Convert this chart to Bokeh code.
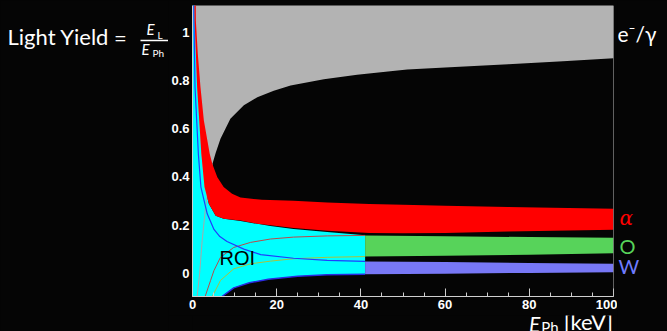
from bokeh.plotting import figure
from bokeh.layouts import row, column
from bokeh.models import Range1d, FixedTicker, Label, Span, CustomJSTickFormatter
from bokeh.embed import file_html
from bokeh.resources import INLINE

# ---------------------------------------------------------------------------
# Light yield bands versus phonon energy E_Ph [keV]
# ---------------------------------------------------------------------------

# e-/gamma band, lower edge
eg_low_x = [1.1, 1.7, 2.3, 3.1, 4.0, 4.7, 5.5, 6.65, 9.0, 12.2, 15.4, 19.3,
            23.3, 31.2, 39.1, 47.0, 51.0, 60.0, 75.0, 88.0, 100.0]
eg_low_y = [-0.097, 0.0, 0.136, 0.274, 0.38, 0.452, 0.50, 0.559, 0.642, 0.698,
            0.732, 0.759, 0.780, 0.806, 0.825, 0.840, 0.847, 0.855, 0.869,
            0.881, 0.894]

# alpha band, upper and lower edges
alpha_hi_x = [0.75, 0.8, 1.26, 1.9, 2.7, 4.1, 4.7, 5.9, 7.4, 9.4, 11.4, 16.5,
              24.0, 32.0, 42.0, 50.0, 60.0, 75.0, 100.0]
alpha_hi_y = [1.2, 1.05, 0.912, 0.773, 0.635, 0.496, 0.455, 0.399, 0.358,
              0.330, 0.315, 0.305, 0.301, 0.294, 0.288, 0.284, 0.280, 0.275,
              0.268]
alpha_lo_x = [0.4, 0.5, 0.8, 1.1, 1.6, 2.1, 2.85, 3.9, 5.5, 7.4, 11.4, 15.4,
              18.5, 24.0, 32.0, 42.0, 50.0, 60.0, 75.0, 100.0]
alpha_lo_y = [1.2, 1.05, 0.912, 0.773, 0.635, 0.496, 0.358, 0.288, 0.239,
              0.226, 0.219, 0.206, 0.199, 0.188, 0.176, 0.167, 0.166, 0.167,
              0.173, 0.181]

# oxygen recoil band, upper and lower edges
o_hi_x = [3.0, 4.3, 5.1, 6.65, 9.8, 13.8, 18.5, 24.0, 32.0, 41.0, 60.0, 80.0, 100.0]
o_hi_y = [-0.097, -0.03, 0.011, 0.066, 0.107, 0.128, 0.142, 0.150, 0.155,
          0.157, 0.154, 0.150, 0.147]
o_lo_x = [4.7, 6.65, 9.8, 13.8, 18.5, 24.0, 32.0, 41.0, 60.0, 80.0, 100.0]
o_lo_y = [-0.097, -0.03, 0.018, 0.039, 0.050, 0.060, 0.066, 0.069, 0.072,
          0.077, 0.083]

# tungsten recoil band, upper and lower edges
w_hi_x = [0.25, 0.35, 0.6, 1.4, 2.0, 3.5, 5.1, 6.5, 8.2, 12.2, 16.2, 24.0,
          32.0, 41.0, 60.0, 80.0, 100.0]
w_hi_y = [1.2, 1.05, 0.773, 0.494, 0.358, 0.247, 0.182, 0.152, 0.132, 0.100,
          0.077, 0.062, 0.053, 0.049, 0.046, 0.042, 0.039]
w_lo_x = [7.0, 9.8, 13.5, 18.0, 25.0, 32.0, 41.0, 60.0, 80.0, 100.0]
w_lo_y = [-0.097, -0.061, -0.040, -0.025, -0.013, -0.007, -0.004, -0.002,
          0.001, 0.004]

# region of interest (ROI), upper edge; it ends at E_Ph = 41 keV
roi_top_x = [0.0, 0.4, 0.5, 0.8, 1.1, 1.6, 2.1, 2.85, 3.9, 5.5, 7.4, 11.4,
             15.4, 18.5, 24.0, 32.0, 41.0]
roi_top_y = [1.2, 1.2, 1.05, 0.912, 0.773, 0.635, 0.496, 0.358, 0.288, 0.239,
             0.226, 0.217, 0.205, 0.196, 0.184, 0.171, 0.158]
roi_end = 41.0

x_ticks = [0, 20, 40, 60, 80, 100]
x_minor = list(range(0, 101, 5))
y_ticks = [0, 0.2, 0.4, 0.6, 0.8, 1]

# ---------------------------------------------------------------------------
BG = "#050505"
GRAY = "#b3b3b3"
CYAN = "#00ffff"
RED = "#ff0000"
GREEN = "#57d35a"
VIOLET = "#7878f6"
AX = "#cfcfcf"

H = 331
LEFT_W = 168          # strip holding the y title
RIGHT_W = 50          # strip holding the band names
XT_H = 16             # strip holding the x title
MAIN_W = 667 - LEFT_W - RIGHT_W
MAIN_H = H - XT_H
X0, X1 = 0.0, 100.0
Y0, Y1 = -0.097, 1.113
DARK = {"background-color": BG}


def strip(w, h):
    """text-only panel whose data units are its own pixels (y downwards)"""
    f = figure(width=w, height=h, x_range=Range1d(0, w), y_range=Range1d(h, 0),
               x_axis_type=None, y_axis_type=None, min_border=0,
               output_backend="svg", toolbar_location=None,
               background_fill_color=BG, border_fill_color=BG, styles=DARK)
    f.grid.visible = False
    f.outline_line_color = None
    return f


def label(f, x, y, text, size, color="white", font="Lato", style="normal",
          align="left"):
    """y is the vertical middle of the text line"""
    f.add_layout(Label(x=x, y=y, text=text, text_color=color, text_font=font,
                       text_font_size=f"{size}px", text_font_style=style,
                       text_align=align, text_baseline="middle"))


# ---------------------------------------------------------------------------
# main plot
fig = figure(width=MAIN_W, height=MAIN_H,
             x_range=Range1d(X0, X1), y_range=Range1d(Y0, Y1),
             output_backend="svg", toolbar_location=None,
             min_border_left=24, min_border_right=4,
             min_border_top=5, min_border_bottom=MAIN_H - 296,
             background_fill_color=BG, border_fill_color=BG, styles=DARK)
fig.grid.visible = False
fig.outline_line_color = None


def split(xs, ys, lo=None, hi=None):
    out_x, out_y = [], []
    for a, b in zip(xs, ys):
        if (lo is None or a >= lo) and (hi is None or a <= hi):
            out_x.append(a)
            out_y.append(b)
    return out_x, out_y


# e-/gamma band (extends above the frame)
fig.patch(eg_low_x + [X1, 0.3, 0.3], eg_low_y + [1.3, 1.3, -0.2],
          fill_color=GRAY, line_color=None)

# ROI: from the W lower edge up to the ROI top edge
bx, by = split(w_lo_x, w_lo_y, hi=roi_end)
fig.patch([0.0] + bx + roi_top_x[::-1], [-0.2] + by + roi_top_y[::-1],
          fill_color=CYAN, line_color=None)

# band edges inside the ROI
ex, ey = split(eg_low_x, eg_low_y, hi=5.0)
fig.line(ex, ey, line_color="#a8a8a8", line_width=1)
lx, ly = split(o_hi_x, o_hi_y, hi=roi_end)
fig.line(lx, ly, line_color="#b94a4a", line_width=1)
lx, ly = split(o_lo_x, o_lo_y, hi=roi_end)
fig.line(lx, ly, line_color="#a9c23e", line_width=1)
lx, ly = split(w_hi_x, w_hi_y, hi=roi_end)
fig.line(lx, ly, line_color="#1f3dff", line_width=1.2)
fig.line(bx, by, line_color="#2a2ae0", line_width=1.5)

# alpha band
fig.patch(alpha_hi_x + alpha_lo_x[::-1], alpha_hi_y + alpha_lo_y[::-1],
          fill_color=RED, line_color=None)

# O and W bands beyond the ROI
ox1, oy1 = split(o_hi_x, o_hi_y, lo=roi_end)
ox2, oy2 = split(o_lo_x, o_lo_y, lo=roi_end)
fig.patch(ox1 + ox2[::-1], oy1 + oy2[::-1], fill_color=GREEN, line_color=None)
wx1, wy1 = split(w_hi_x, w_hi_y, lo=roi_end)
wx2, wy2 = split(w_lo_x, w_lo_y, lo=roi_end)
fig.patch(wx1 + wx2[::-1], wy1 + wy2[::-1], fill_color=VIOLET, line_color=None)

# right frame edge
fig.add_layout(Span(location=X1, dimension="height", line_color="#bdbdbd",
                    line_width=1))

label(fig, 6.4, 0.062, "ROI", 20, color="black", font="Liberation Sans")

# axes
xa = fig.xaxis[0]
xa.ticker = FixedTicker(ticks=x_ticks, minor_ticks=x_minor)
xa.major_tick_in = 8
xa.major_tick_out = 0
xa.minor_tick_in = 4
xa.minor_tick_out = 0
xa.major_label_standoff = 3

ya = fig.yaxis[0]
ya.ticker = FixedTicker(ticks=y_ticks)
ya.formatter = CustomJSTickFormatter(
    code="return (tick == 0 || tick == 1) ? tick.toFixed(0) : tick.toFixed(1);")
ya.major_tick_in = 0
ya.major_tick_out = 0
ya.minor_tick_in = 0
ya.minor_tick_out = 0
ya.major_label_standoff = 3

for ax in (xa, ya):
    ax.axis_line_color = AX
    ax.major_tick_line_color = AX
    ax.minor_tick_line_color = AX
    ax.major_label_text_color = "white"
    ax.major_label_text_font = "Liberation Sans"
    ax.major_label_text_font_style = "bold"
    ax.major_label_text_font_size = "13px"

# ---------------------------------------------------------------------------
# y title: Light Yield = E_L / E_Ph
ytitle = strip(LEFT_W, H)
label(ytitle, 7, 36, "Light Yield", 22)
label(ytitle, 120, 37, "=", 22, align="center")
ytitle.segment(x0=[140], y0=[40], x1=[LEFT_W], y1=[40], line_color="white",
               line_width=1.3)
label(ytitle, 146, 28, "E", 15, style="italic")
label(ytitle, 157, 34, "L", 10)
label(ytitle, 141, 48, "E", 15, style="italic")
label(ytitle, 152, 52, "Ph", 10)

# x title: E_Ph [keV]
xtitle = strip(MAIN_W, XT_H)
label(xtitle, 359, 7.5, "E", 21, style="italic")
label(xtitle, 372, 11, "Ph", 15)
label(xtitle, 396, 5.5, "[keV]", 22)

# band names
names = strip(RIGHT_W, H)
label(names, 0, 33, "e\u207b/\u03b3", 21)
label(names, 2, 217, "\u03b1", 20, color=RED, font="DejaVu Serif", style="italic")
label(names, 2, 245, "O", 20, color=GREEN)
label(names, 1, 265.5, "W", 20, color="#6f7bff")

p = row(ytitle, column(fig, xtitle, spacing=0, styles=DARK), names,
        spacing=0, styles=DARK)

open("out.html", "w").write(file_html(p, INLINE))
